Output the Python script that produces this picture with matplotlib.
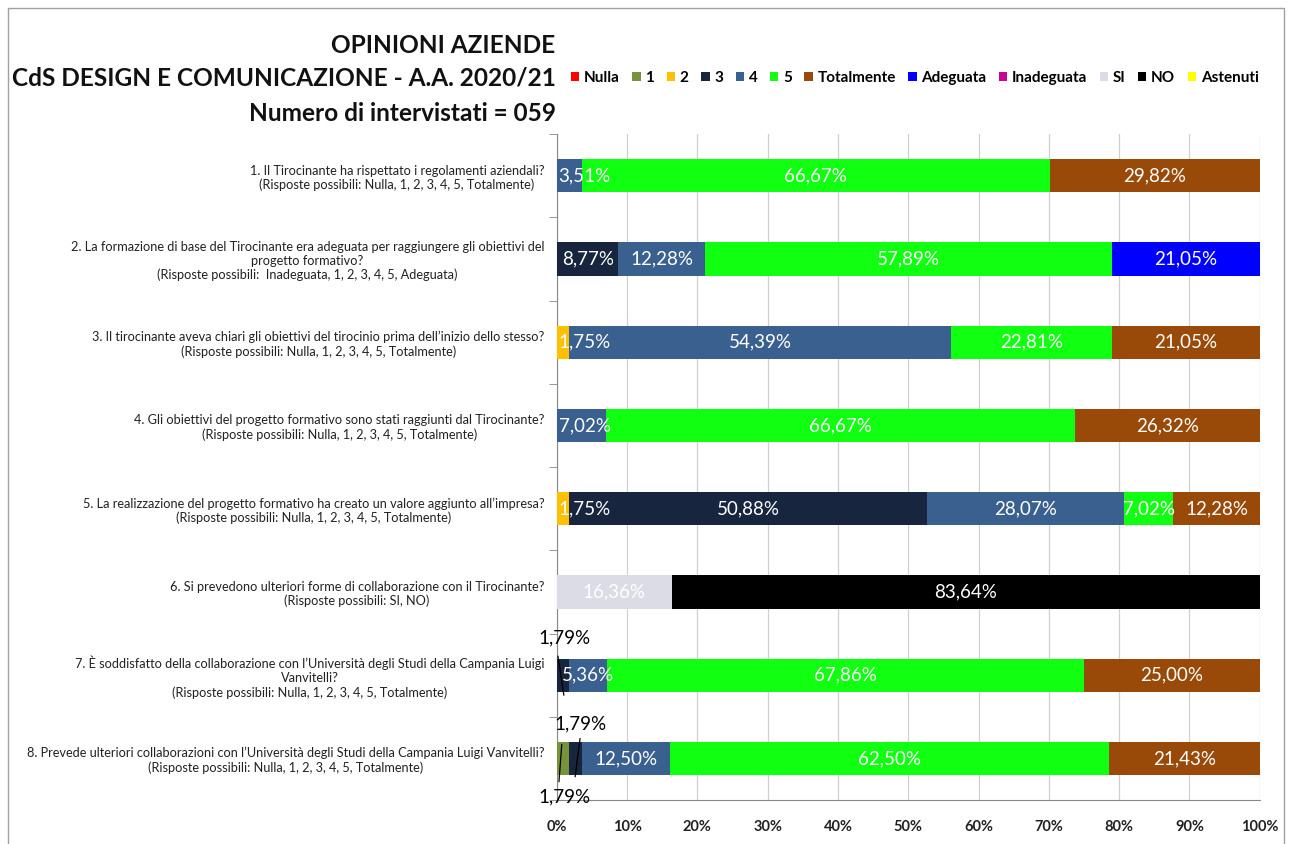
import numpy as np
import matplotlib
matplotlib.use('Agg')
import matplotlib.pyplot as plt
from matplotlib.patches import Rectangle, Patch

plt.rcParams['font.family'] = ['Lato', 'DejaVu Sans']

# Questions (one per bar, top to bottom)
questions = [
    "1. Il Tirocinante ha rispettato i regolamenti aziendali?\n(Risposte possibili: Nulla, 1, 2, 3, 4, 5, Totalmente)",
    "2. La formazione di base del Tirocinante era adeguata per raggiungere gli obiettivi del\nprogetto formativo?\n(Risposte possibili:  Inadeguata, 1, 2, 3, 4, 5, Adeguata)",
    "3. Il tirocinante aveva chiari gli obiettivi del tirocinio prima dell\u2019inizio dello stesso?\n(Risposte possibili: Nulla, 1, 2, 3, 4, 5, Totalmente)",
    "4. Gli obiettivi del progetto formativo sono stati raggiunti dal Tirocinante?\n(Risposte possibili: Nulla, 1, 2, 3, 4, 5, Totalmente)",
    "5. La realizzazione del progetto formativo ha creato un valore aggiunto all\u2019impresa?\n(Risposte possibili: Nulla, 1, 2, 3, 4, 5, Totalmente)",
    "6. Si prevedono ulteriori forme di collaborazione con il Tirocinante?\n(Risposte possibili: SI, NO)",
    "7. \u00c8 soddisfatto della collaborazione con l\u2019Universit\u00e0 degli Studi della Campania Luigi\nVanvitelli?\n(Risposte possibili: Nulla, 1, 2, 3, 4, 5, Totalmente)",
    "8. Prevede ulteriori collaborazioni con l\u2019Universit\u00e0 degli Studi della Campania Luigi Vanvitelli?\n(Risposte possibili: Nulla, 1, 2, 3, 4, 5, Totalmente)",
]

# Percentages per answer category, one value per question
nulla      = [0, 0, 0, 0, 0, 0, 0, 0]
uno        = [0, 0, 0, 0, 0, 0, 0, 1.79]
due        = [0, 0, 1.75, 0, 1.75, 0, 0, 0]
tre        = [0, 8.77, 0, 0, 50.88, 0, 1.79, 1.79]
quattro    = [3.51, 12.28, 54.39, 7.02, 28.07, 0, 5.36, 12.50]
cinque     = [66.67, 57.89, 22.81, 66.67, 7.02, 0, 67.86, 62.50]
totalmente = [29.82, 0, 21.05, 26.32, 12.28, 0, 25.00, 21.43]
adeguata   = [0, 21.05, 0, 0, 0, 0, 0, 0]
inadeguata = [0, 0, 0, 0, 0, 0, 0, 0]
si         = [0, 0, 0, 0, 0, 16.36, 0, 0]
no         = [0, 0, 0, 0, 0, 83.64, 0, 0]
astenuti   = [0, 0, 0, 0, 0, 0, 0, 0]

series_names = ['Nulla', '1', '2', '3', '4', '5', 'Totalmente', 'Adeguata',
                'Inadeguata', 'SI', 'NO', 'Astenuti']
series_vals = [nulla, uno, due, tre, quattro, cinque, totalmente, adeguata,
               inadeguata, si, no, astenuti]
colors = ['#FF0000', '#77933C', '#FFC000', '#17253F', '#3A6090', '#11FF11',
          '#9A4A08', '#0000FF', '#CC0099', '#DCDCE6', '#000000', '#FFFF00']


def pct(v):
    return f"{v:.2f}".replace('.', ',') + '%'


fig = plt.figure(figsize=(12.92, 8.44), dpi=100)
ax = fig.add_axes([0.431, 0.052, 0.544, 0.789])

# outer chart border
fig.patches.append(Rectangle((0.006, -0.05), 0.988, 1.04, transform=fig.transFigure,
                             fill=False, edgecolor='#A0A0A0', linewidth=1.0))

y = np.arange(len(questions))
left = np.zeros(len(questions))
for name, vals, col in zip(series_names, series_vals, colors):
    vals = np.array(vals, dtype=float)
    ax.barh(y, vals, left=left, height=0.4, color=col, label=name, zorder=3)
    for i, v in enumerate(vals):
        # tiny segments of rows 7 and 8 get outside labels below
        if v == 0 or (v < 1.8 and name in ('1', '3')):
            continue
        cx = left[i] + v / 2
        if cx < 3.6:
            ax.text(0.25, i, pct(v), ha='left', va='center', color='white',
                    fontsize=13.5, zorder=4)
        else:
            ax.text(cx, i, pct(v), ha='center', va='center', color='white',
                    fontsize=13.5, zorder=4)
    left += vals

# outside labels: (value, row, label x, label dy, line start, line end)
outside = [
    (tre[6], 6, 1.1, -0.45, (0.15, -0.23), (1.0, 0.24)),
    (tre[7], 7, 3.3, -0.42, (3.3, -0.24), (2.6, 0.22)),
    (uno[7], 7, 1.1, 0.46, (0.7, -0.17), (0.3, 0.28)),
]
for v, row, xt, dy, p0, p1 in outside:
    ax.text(xt, row + dy, pct(v), ha='center', va='center', fontsize=13.5,
            color='black', zorder=5, clip_on=False)
    ax.annotate('', xy=(p1[0], row + p1[1]), xytext=(p0[0], row + p0[1]),
                arrowprops=dict(arrowstyle='-', color='black', lw=0.9,
                                shrinkA=0, shrinkB=0), zorder=5)

ax.set_xlim(0, 100)
ax.set_ylim(len(questions) - 0.5, -0.5)
ax.set_xticks(np.arange(0, 101, 10))
ax.set_xticklabels([f"{t}%" for t in range(0, 101, 10)], fontsize=10.5,
                   fontweight='bold', color='#222222')
ax.tick_params(axis='x', length=0, pad=14)
ax.set_yticks(y)
ax.set_yticklabels(questions, fontsize=9.2, multialignment='center',
                   color='#222222', linespacing=1.2)
ax.tick_params(axis='y', length=0, pad=9)
ax.set_yticks(np.arange(-0.5, len(questions), 1), minor=True)
ax.tick_params(axis='y', which='minor', length=6, color='#888888')
ax.grid(axis='x', color='#D0D0D0', linewidth=0.9, zorder=0)
for s in ['top', 'right']:
    ax.spines[s].set_visible(False)
ax.spines['left'].set_color('#888888')
ax.spines['bottom'].set_color('#888888')

# title
title_lines = ['OPINIONI AZIENDE', 'CdS DESIGN E COMUNICAZIONE - A.A. 2020/21',
               'Numero di intervistati = 059']
for ty, line in zip([0.946, 0.907, 0.866], title_lines):
    fig.text(0.430, ty, line, ha='right', va='center', fontsize=17.6,
             fontweight='bold', color='#111111')

handles = [Patch(facecolor=c, edgecolor='none') for c in colors]
fig.legend(handles, series_names, loc='center', bbox_to_anchor=(0.708, 0.908),
           ncol=12, frameon=False, handlelength=0.55,
           handleheight=0.55, handletextpad=0.3, columnspacing=0.82,
           prop={'weight': 'bold', 'size': 11})

fig.savefig('out.png', dpi=100)
